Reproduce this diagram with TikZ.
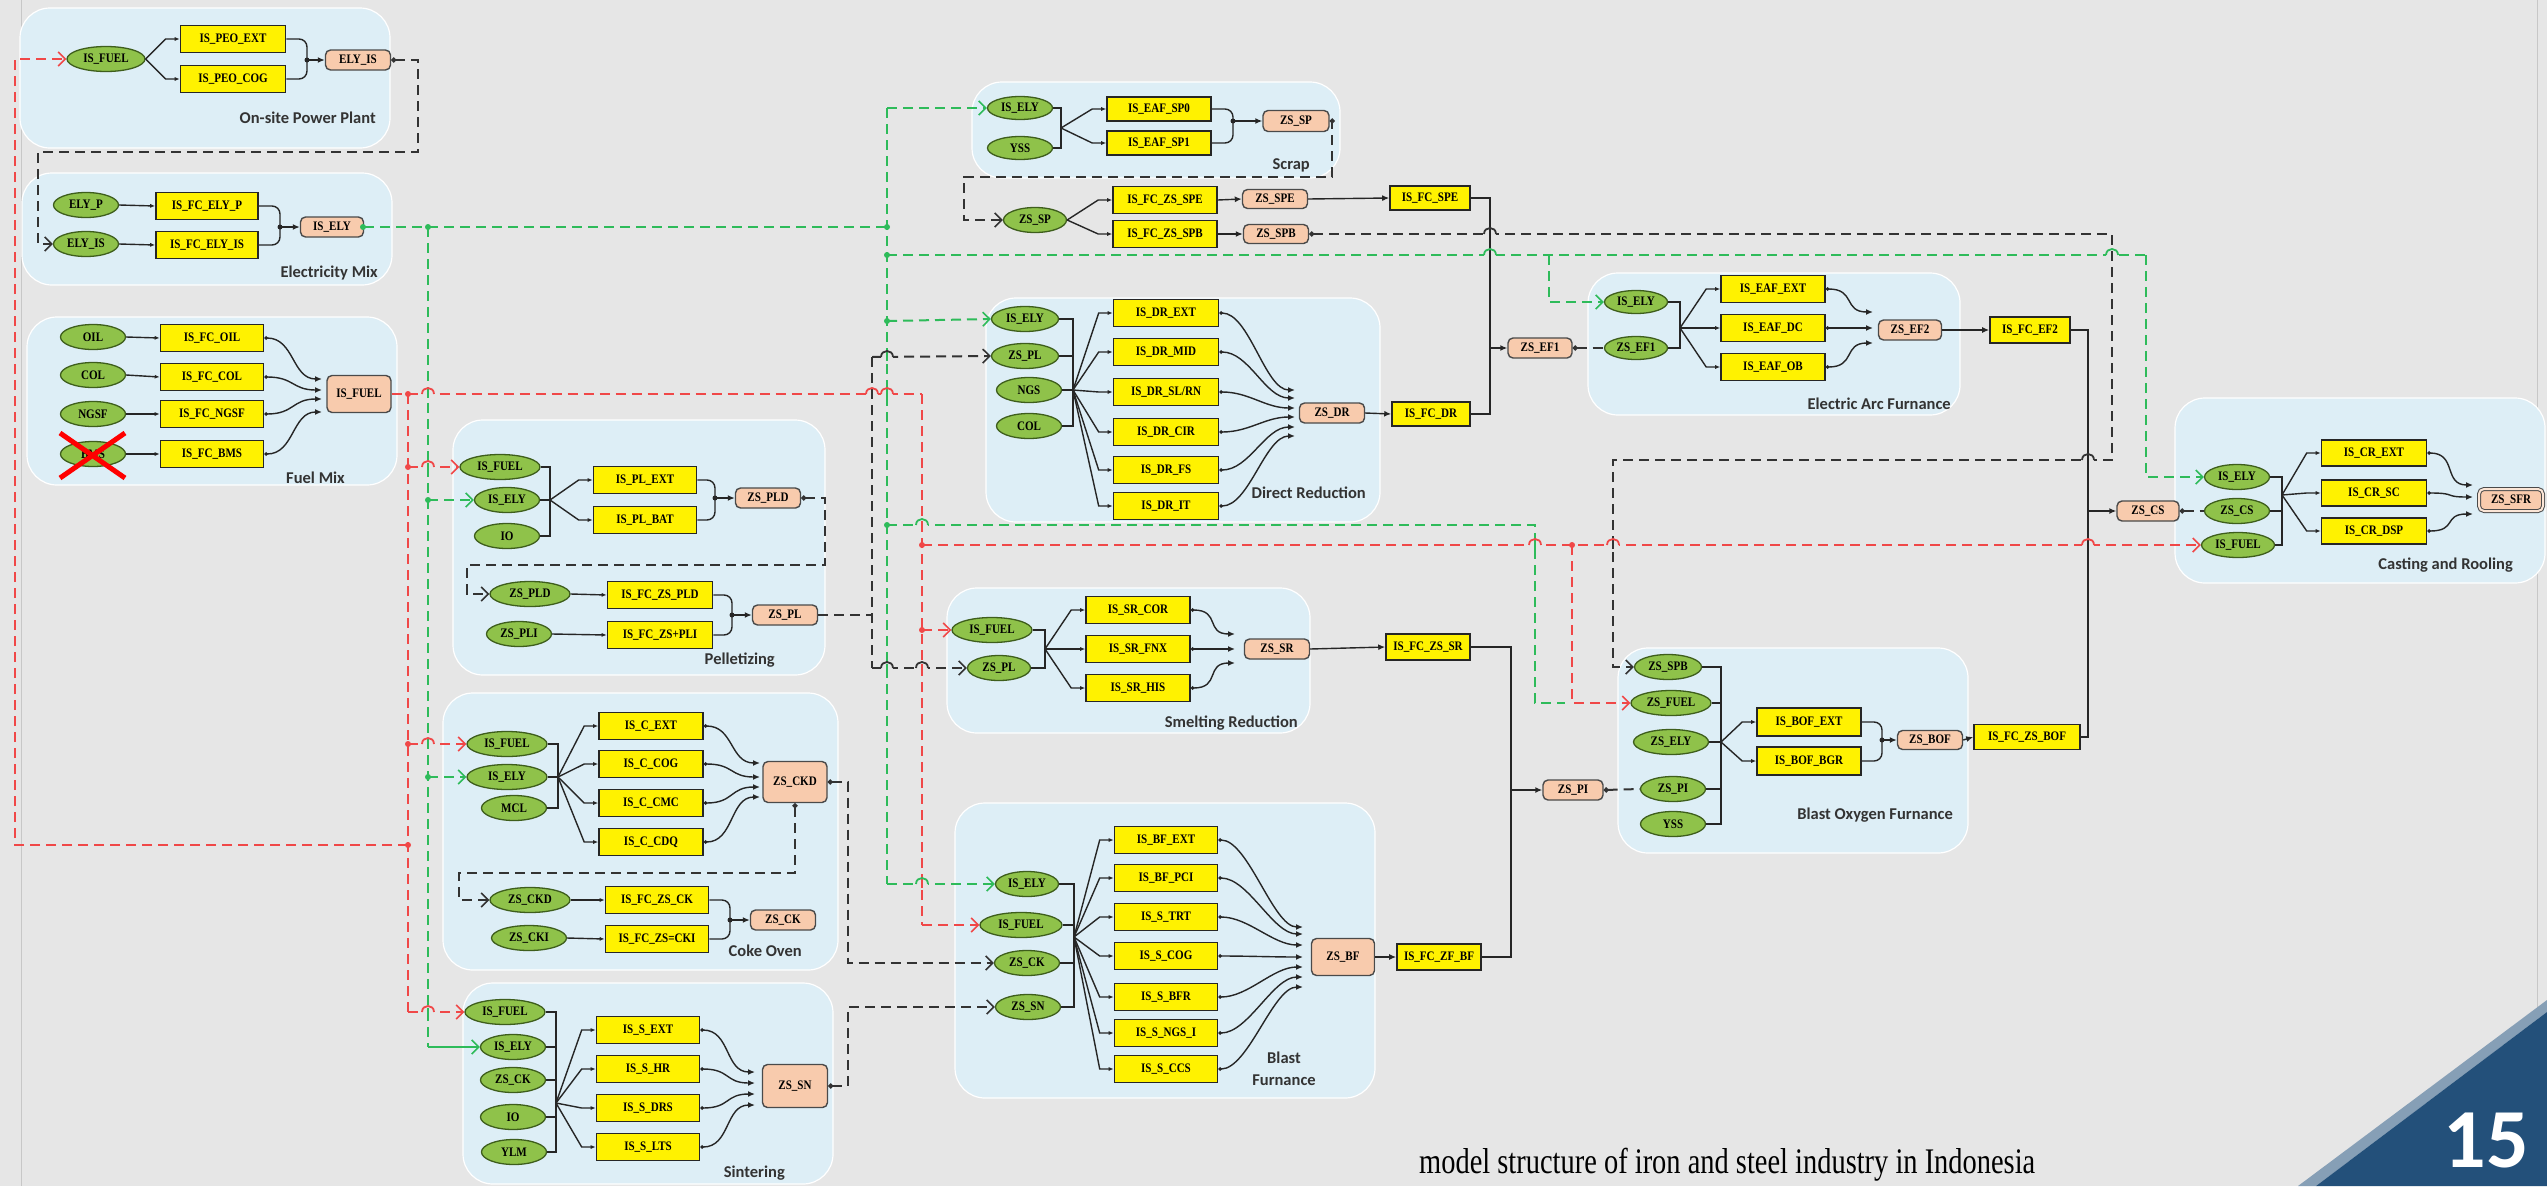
\documentclass[tikz,border=0pt]{standalone}
\usepackage{fontspec}
\usetikzlibrary{shapes.geometric,arrows.meta,calc}
\newfontfamily\nodefont[FakeStretch=0.85]{Liberation Serif}
\newfontfamily\lblfont{Carlito}
\newfontfamily\capfont[FakeStretch=0.79]{Liberation Serif}
\definecolor{bg}{HTML}{E6E6E6}
\definecolor{panelc}{HTML}{DDEEF6}
\definecolor{ellc}{HTML}{8FC24A}
\definecolor{elld}{HTML}{3E5E1C}
\definecolor{peach}{HTML}{F8CBAD}
\definecolor{peachd}{HTML}{4A4A4A}
\definecolor{redl}{HTML}{F04848}
\definecolor{greenl}{HTML}{2EBB5A}
\definecolor{blkl}{HTML}{333333}
\definecolor{navy}{HTML}{23507A}
\tikzset{
 panel/.style={fill=panelc, draw=white, line width=1.2pt, rounded corners=30pt},
 nf/.style={font=\nodefont\bfseries\fontsize{13}{13}\selectfont},
 inp/.style={ellipse, draw=elld, fill=ellc, line width=1.3pt, minimum height=25pt, minimum width=65pt, inner sep=0pt, nf},
 proc/.style={rectangle, draw=black!85, fill=yellow, line width=1.6pt, minimum width=103pt, minimum height=27pt, inner sep=0pt, nf},
 outp/.style={rectangle, rounded corners=5pt, draw=peachd, fill=peach, line width=1.4pt, minimum width=65pt, minimum height=20pt, inner sep=0pt, nf},
 lbl/.style={anchor=base east, font=\lblfont\bfseries\fontsize{16.5}{16.5}\selectfont, text=black!80, inner sep=0pt},
 conn/.style={draw=black!85, line width=1.4pt},
 arr/.style={-{Latex[length=7pt,width=6pt]}},
 din/.style={{Circle[length=3.5pt]}-{Latex[length=7pt,width=6pt]}},
 fanl/.style={conn,-{Latex[length=5pt,width=4pt]}},
 rd/.style={draw=redl, line width=2pt, dash pattern=on 10pt off 6pt},
 gd/.style={draw=greenl, line width=2pt, dash pattern=on 10pt off 6pt},
 bd/.style={draw=blkl, line width=2pt, dash pattern=on 10pt off 6pt},
 barb/.style={-{Straight Barb[length=7pt,width=14pt,line width=1.6pt]}},
 dbarb/.style={{Circle[length=5pt]}-{Straight Barb[length=7pt,width=14pt,line width=1.6pt]}},
}
\newcommand\myfan[2]{\draw[fanl] (#1) -- ($(#2.west)+(-14,0)$) -- (#2.west);}
\newcommand\mycv[3]{\draw[conn,din] (#1.east) .. controls +(30,0) and +(-30,0) .. (#2,#3);}
\newcommand\mymerge[4]{\draw[conn,rounded corners=8pt] (#1.east) -| (#3); \draw[conn,rounded corners=8pt] (#2.east) -| (#3); \fill[black!85] (#3) circle (2.5pt); \draw[conn,arr] (#3) -- (#4.west);}
\newcommand\myhop[4]{\fill[bg] (#1-6,#2-2.6) rectangle (#1+6,#2+2.6);
 \draw[#4, line width=1.8pt] (#1,#2-4) -- (#1,#2+4);
 \draw[#3, line width=1.8pt] (#1-6,#2) .. controls (#1-6,#2-8) and (#1+6,#2-8) .. (#1+6,#2);}
\begin{document}
\begin{tikzpicture}[x=1pt,y=-1pt]
\useasboundingbox (0,0) rectangle (2547,1186);
\fill[bg] (0,0) rectangle (2547,1186);
\draw[black!22, line width=1pt] (21,0) -- (21,1186) (2537,0) -- (2537,1186);

% ---------------- panels
\draw[panel] (20,8) rectangle (390,148);
\draw[panel] (22,173) rectangle (392,285);
\draw[panel] (27,317) rectangle (397,485);
\draw[panel] (453,420) rectangle (825,675);
\draw[panel] (443,693) rectangle (838,970);
\draw[panel] (463,983) rectangle (833,1184);
\draw[panel] (972,82) rectangle (1340,178);
\draw[panel] (986,298) rectangle (1380,522);
\draw[panel] (947,588) rectangle (1310,733);
\draw[panel] (955,803) rectangle (1375,1098);
\draw[panel] (1588,273) rectangle (1960,415);
\draw[panel] (1618,648) rectangle (1968,853);
\draw[panel] (2175,398) rectangle (2545,583);

% ---------------- On-site Power Plant
\node[inp, minimum width=78pt] (opFUEL) at (106,59) {IS\_FUEL};
\node[proc, minimum width=105pt] (opEXT) at (233,39) {IS\_PEO\_EXT};
\node[proc, minimum width=105pt] (opCOG) at (233,79) {IS\_PEO\_COG};
\node[outp] (opOUT) at (358,60) {ELY\_IS};
\coordinate (opM) at (307,60);
\myfan{opFUEL.east}{opEXT}
\myfan{opFUEL.east}{opCOG}
\mymerge{opEXT}{opCOG}{opM}{opOUT}
\node[lbl] (opL) at (376,123) {On-site Power Plant};

% ---------------- Electricity Mix
\node[inp] (emP) at (86,205) {ELY\_P};
\node[inp] (emIS) at (86,244) {ELY\_IS};
\node[proc, minimum width=102pt] (emFP) at (207,206) {IS\_FC\_ELY\_P};
\node[proc, minimum width=102pt] (emFIS) at (207,245) {IS\_FC\_ELY\_IS};
\node[outp, minimum width=63pt] (emOUT) at (332,227) {IS\_ELY};
\coordinate (emM) at (280,227);
\draw[fanl] (emP.east) -- (emFP.west);
\draw[fanl] (emIS.east) -- (emFIS.west);
\mymerge{emFP}{emFIS}{emM}{emOUT}
\node[lbl] (emL) at (378,277) {Electricity Mix};

% ---------------- Fuel Mix
\node[inp] (fmOIL) at (93,337) {OIL};
\node[inp] (fmCOL) at (93,375) {COL};
\node[inp] (fmNGSF) at (93,414) {NGSF};
\node[inp] (fmBMS) at (93,454) {BMS};
\node[proc] (fmB1) at (212,338) {IS\_FC\_OIL};
\node[proc] (fmB2) at (212,377) {IS\_FC\_COL};
\node[proc] (fmB3) at (212,414) {IS\_FC\_NGSF};
\node[proc] (fmB4) at (212,454) {IS\_FC\_BMS};
\node[outp, minimum width=64pt, minimum height=37pt] (fmOUT) at (359,394) {IS\_FUEL};
\draw[fanl] (fmOIL.east) -- (fmB1.west);
\draw[fanl] (fmCOL.east) -- (fmB2.west);
\draw[fanl] (fmNGSF.east) -- (fmB3.west);
\draw[fanl] (fmBMS.east) -- (fmB4.west);
\mycv{fmB1}{322}{379}
\mycv{fmB2}{322}{390}
\mycv{fmB3}{322}{399}
\mycv{fmB4}{322}{412}
\draw[draw=red, line width=5pt] (60,433) -- (125,478) (60,478) -- (125,433);
\node[lbl] (fmL) at (345,483) {Fuel Mix};

% ---------------- Pelletizing
\node[inp, minimum width=80pt] (plFUEL) at (500,467) {IS\_FUEL};
\node[inp] (plELY) at (507,500) {IS\_ELY};
\node[inp] (plIO) at (507,536) {IO};
\coordinate (plJ) at (550,500);
\draw[conn] (plFUEL.east) -| (plJ);
\draw[conn] (plIO.east) -| (plJ);
\draw[conn] (plELY.east) -- (plJ);
\node[proc] (plA) at (645,480) {IS\_PL\_EXT};
\node[proc] (plB) at (645,520) {IS\_PL\_BAT};
\myfan{plJ}{plA}
\myfan{plJ}{plB}
\node[outp] (plO1) at (768,498) {ZS\_PLD};
\coordinate (plM1) at (715,498);
\mymerge{plA}{plB}{plM1}{plO1}
\node[inp, minimum width=80pt] (plZ1) at (530,594) {ZS\_PLD};
\node[inp] (plZ2) at (519,634) {ZS\_PLI};
\node[proc, minimum width=105pt] (plC) at (660,595) {IS\_FC\_ZS\_PLD};
\node[proc, minimum width=105pt] (plD) at (660,635) {IS\_FC\_ZS+PLI};
\draw[fanl] (plZ1.east) -- (plC.west);
\draw[fanl] (plZ2.east) -- (plD.west);
\node[outp] (plO2) at (785,615) {ZS\_PL};
\coordinate (plM2) at (732,615);
\mymerge{plC}{plD}{plM2}{plO2}
\draw[bd,dbarb] (plO1.east) -- (825,498) -- (825,565) -- (467,565) |- (plZ1.west);
\node[lbl] (plL) at (775,664) {Pelletizing};

% ---------------- Coke Oven
\node[inp, minimum width=80pt] (coFUEL) at (507,744) {IS\_FUEL};
\node[inp, minimum width=80pt] (coELY) at (507,777) {IS\_ELY};
\node[inp] (coMCL) at (514,808) {MCL};
\coordinate (coJ) at (558,777);
\draw[conn] (coFUEL.east) -| (coJ);
\draw[conn] (coMCL.east) -| (coJ);
\draw[conn] (coELY.east) -- (coJ);
\node[proc, minimum width=104pt] (coA) at (651,726) {IS\_C\_EXT};
\node[proc, minimum width=104pt] (coB) at (651,764) {IS\_C\_COG};
\node[proc, minimum width=104pt] (coC) at (651,803) {IS\_C\_CMC};
\node[proc, minimum width=104pt] (coD) at (651,842) {IS\_C\_CDQ};
\myfan{coJ}{coA}
\myfan{coJ}{coB}
\myfan{coJ}{coC}
\myfan{coJ}{coD}
\node[outp, minimum width=64pt, minimum height=41pt] (coO1) at (795,782) {ZS\_CKD};
\mycv{coA}{760}{763}
\mycv{coB}{760}{777}
\mycv{coC}{760}{787}
\mycv{coD}{760}{797}
\node[inp, minimum width=80pt] (coZ1) at (530,900) {ZS\_CKD};
\node[inp, minimum width=75pt] (coZ2) at (529,938) {ZS\_CKI};
\node[proc] (coE) at (657,900) {IS\_FC\_ZS\_CK};
\node[proc] (coF) at (657,939) {IS\_FC\_ZS=CKI};
\draw[fanl] (coZ1.east) -- (coE.west);
\draw[fanl] (coZ2.east) -- (coF.west);
\node[outp] (coO2) at (783,920) {ZS\_CK};
\coordinate (coM) at (730,920);
\mymerge{coE}{coF}{coM}{coO2}
\draw[bd,dbarb] (coO1.south) -- (795,873) -- (459,873) |- (coZ1.west);
\node[lbl] (coL) at (802,956) {Coke Oven};

% ---------------- Sintering
\node[inp, minimum width=80pt] (snFUEL) at (505,1012) {IS\_FUEL};
\node[inp] (snELY) at (513,1047) {IS\_ELY};
\node[inp] (snCK) at (513,1080) {ZS\_CK};
\node[inp] (snIO) at (513,1117) {IO};
\node[inp] (snYLM) at (514,1152) {YLM};
\coordinate (snJ) at (556,1103);
\foreach \n in {snFUEL,snELY,snCK,snIO,snYLM} {\draw[conn] (\n.east) -| (snJ);}
\node[proc] (snA) at (648,1030) {IS\_S\_EXT};
\node[proc] (snB) at (648,1069) {IS\_S\_HR};
\node[proc] (snC) at (648,1108) {IS\_S\_DRS};
\node[proc] (snD) at (648,1147) {IS\_S\_LTS};
\myfan{snJ}{snA}
\myfan{snJ}{snB}
\myfan{snJ}{snC}
\myfan{snJ}{snD}
\node[outp, minimum height=43pt] (snO) at (795,1086) {ZS\_SN};
\mycv{snA}{755}{1072}
\mycv{snB}{755}{1083}
\mycv{snC}{755}{1094}
\mycv{snD}{755}{1105}
\node[lbl] (snL) at (785,1177) {Sintering};

% ---------------- Scrap
\node[inp, minimum height=23pt] (scELY) at (1020,108) {IS\_ELY};
\node[inp, minimum height=23pt] (scYSS) at (1020,148) {YSS};
\coordinate (scJ) at (1061,128);
\draw[conn] (scELY.east) -| (scJ);
\draw[conn] (scYSS.east) -| (scJ);
\node[proc, minimum width=104pt, minimum height=24pt] (scA) at (1159,109) {IS\_EAF\_SP0};
\node[proc, minimum width=104pt, minimum height=24pt] (scB) at (1159,143) {IS\_EAF\_SP1};
\myfan{scJ}{scA}
\myfan{scJ}{scB}
\node[outp, minimum width=66pt, minimum height=21pt] (scO) at (1296,121) {ZS\_SP};
\coordinate (scM) at (1233,121);
\mymerge{scA}{scB}{scM}{scO}
\node[lbl] (scL) at (1310,169) {Scrap};
\node[inp, minimum width=63pt] (scZ) at (1035,220) {ZS\_SP};
\draw[bd,dbarb] (scO.east) -- ++(2,0) |- (964,177) |- (scZ.west);
\node[proc, minimum width=104pt] (scC) at (1165,200) {IS\_FC\_ZS\_SPE};
\node[proc, minimum width=104pt] (scD) at (1165,234) {IS\_FC\_ZS\_SPB};
\myfan{scZ.east}{scC}
\myfan{scZ.east}{scD}
\node[outp, minimum height=19pt] (scE) at (1275,199) {ZS\_SPE};
\node[outp, minimum height=19pt] (scF) at (1276,234) {ZS\_SPB};
\draw[conn,arr] (scC.east) -- (scE.west);
\draw[conn,arr] (scD.east) -- (scF.west);

% ---------------- Direct Reduction
\node[inp, minimum width=67pt] (drELY) at (1025,319) {IS\_ELY};
\node[inp, minimum width=67pt] (drPL) at (1025,356) {ZS\_PL};
\node[inp] (drNGS) at (1029,390) {NGS};
\node[inp] (drCOL) at (1029,426) {COL};
\coordinate (drJ) at (1073,390);
\foreach \n in {drELY,drPL,drNGS,drCOL} {\draw[conn] (\n.east) -| (drJ);}
\node[proc, minimum width=105pt] (drA) at (1166,313) {IS\_DR\_EXT};
\node[proc, minimum width=105pt] (drB) at (1166,352) {IS\_DR\_MID};
\node[proc, minimum width=105pt] (drC) at (1166,392) {IS\_DR\_SL/RN};
\node[proc, minimum width=105pt] (drD) at (1166,432) {IS\_DR\_CIR};
\node[proc, minimum width=105pt] (drE) at (1166,470) {IS\_DR\_FS};
\node[proc, minimum width=105pt] (drF) at (1166,506) {IS\_DR\_IT};
\foreach \n in {drA,drB,drC,drD,drE,drF} {\myfan{drJ}{\n}}
\node[outp] (drO) at (1332,413) {ZS\_DR};
\mycv{drA}{1295}{390}
\mycv{drB}{1295}{398}
\mycv{drC}{1295}{408}
\mycv{drD}{1295}{417}
\mycv{drE}{1295}{427}
\mycv{drF}{1295}{436}
\node[lbl] (drL) at (1366,498) {Direct Reduction};

\node[proc, minimum width=80pt, minimum height=24pt] (fcSPE) at (1430,198) {IS\_FC\_SPE};
\node[proc, minimum width=78pt, minimum height=24pt] (fcDR) at (1431,414) {IS\_FC\_DR};
\draw[conn,arr] (scE.east) -- (fcSPE.west);
\draw[conn,arr] (drO.east) -- (fcDR.west);
\node[outp, minimum width=64pt] (zEF1) at (1540,348) {ZS\_EF1};
\coordinate (jEF) at (1490,348);
\draw[conn] (fcSPE.east) -| (jEF);
\draw[conn] (fcDR.east) -| (jEF);
\draw[conn,arr] (jEF) -- (zEF1.west);

% ---------------- Smelting Reduction
\node[inp, minimum width=80pt] (srFUEL) at (992,630) {IS\_FUEL};
\node[inp, minimum width=63pt] (srPL) at (999,668) {ZS\_PL};
\coordinate (srJ) at (1045,649);
\draw[conn] (srFUEL.east) -| (srJ);
\draw[conn] (srPL.east) -| (srJ);
\node[proc, minimum width=104pt] (srA) at (1138,610) {IS\_SR\_COR};
\node[proc, minimum width=104pt] (srB) at (1138,649) {IS\_SR\_FNX};
\node[proc, minimum width=104pt] (srC) at (1138,688) {IS\_SR\_HIS};
\myfan{srJ}{srA}
\myfan{srJ}{srB}
\myfan{srJ}{srC}
\node[outp] (srO) at (1277,649) {ZS\_SR};
\mycv{srA}{1235}{634}
\mycv{srB}{1235}{649}
\mycv{srC}{1235}{663}
\node[lbl] (srL) at (1298,727) {Smelting Reduction};
\node[proc, minimum width=84pt, minimum height=26pt] (fcSR) at (1428,647) {IS\_FC\_ZS\_SR};
\draw[conn,arr] (srO.east) -- (fcSR.west);

% ---------------- Blast Furnace
\node[inp, minimum width=63pt] (bfELY) at (1027,884) {IS\_ELY};
\node[inp, minimum width=82pt] (bfFUEL) at (1021,925) {IS\_FUEL};
\node[inp] (bfCK) at (1027,963) {ZS\_CK};
\node[inp] (bfSN) at (1028,1007) {ZS\_SN};
\coordinate (bfJ) at (1074,937);
\foreach \n in {bfELY,bfFUEL,bfCK,bfSN} {\draw[conn] (\n.east) -| (bfJ);}
\node[proc] (bfA) at (1166,840) {IS\_BF\_EXT};
\node[proc] (bfB) at (1166,878) {IS\_BF\_PCI};
\node[proc] (bfC) at (1166,917) {IS\_S\_TRT};
\node[proc] (bfD) at (1166,956) {IS\_S\_COG};
\node[proc] (bfE) at (1166,997) {IS\_S\_BFR};
\node[proc] (bfF) at (1166,1033) {IS\_S\_NGS\_I};
\node[proc] (bfG) at (1166,1069) {IS\_S\_CCS};
\foreach \n in {bfA,bfB,bfC,bfD,bfE,bfF,bfG} {\myfan{bfJ}{\n}}
\node[outp, minimum width=63pt, minimum height=37pt] (bfO) at (1343,957) {ZS\_BF};
\mycv{bfA}{1303}{927}
\mycv{bfB}{1303}{934}
\mycv{bfC}{1303}{945}
\mycv{bfD}{1303}{957}
\mycv{bfE}{1303}{967}
\mycv{bfF}{1303}{977}
\mycv{bfG}{1303}{987}
\node[font=\lblfont\bfseries\fontsize{16.5}{22}\selectfont, text=black!80, align=center] (bfL) at (1284,1069) {Blast\\Furnance};
\node[proc, minimum width=84pt, minimum height=26pt] (fcBF) at (1439,957) {IS\_FC\_ZF\_BF};
\draw[conn,arr] (bfO.east) -- (fcBF.west);
\node[outp, minimum width=60pt] (zPI) at (1573,790) {ZS\_PI};
\coordinate (jPI) at (1511,790);
\draw[conn] (fcSR.east) -| (jPI);
\draw[conn] (fcBF.east) -| (jPI);
\draw[conn,arr] (jPI) -- (zPI.west);

% ---------------- Electric Arc Furnance
\node[inp, minimum width=63pt, minimum height=23pt] (efELY) at (1636,302) {IS\_ELY};
\node[inp, minimum width=63pt, minimum height=23pt] (efZ1) at (1636,348) {ZS\_EF1};
\coordinate (efJ) at (1680,328);
\draw[conn] (efELY.east) -| (efJ);
\draw[conn] (efZ1.east) -| (efJ);
\node[proc, minimum width=104pt] (efA) at (1773,289) {IS\_EAF\_EXT};
\node[proc, minimum width=104pt] (efB) at (1773,328) {IS\_EAF\_DC};
\node[proc, minimum width=104pt] (efC) at (1773,367) {IS\_EAF\_OB};
\myfan{efJ}{efA}
\myfan{efJ}{efB}
\myfan{efJ}{efC}
\node[outp, minimum width=63pt] (efO) at (1910,330) {ZS\_EF2};
\mycv{efA}{1873}{312}
\mycv{efB}{1873}{328}
\mycv{efC}{1873}{343}
\node[lbl] (efL) at (1951,409) {Electric Arc Furnance};
\node[proc, minimum width=80pt, minimum height=26pt] (fcEF) at (2030,330) {IS\_FC\_EF2};
\draw[conn,arr] (efO.east) -- (fcEF.west);
\draw[bd,{Circle[length=5pt]}-] (zEF1.east) -- (efZ1.west);

% ---------------- Blast Oxygen Furnance
\node[inp, minimum width=67pt] (bofSPB) at (1668,667) {ZS\_SPB};
\node[inp, minimum width=80pt] (bofFUEL) at (1671,703) {ZS\_FUEL};
\node[inp, minimum width=75pt] (bofELY) at (1671,742) {ZS\_ELY};
\node[inp] (bofPI) at (1673,789) {ZS\_PI};
\node[inp] (bofYSS) at (1673,824) {YSS};
\coordinate (bofJ) at (1721,742);
\foreach \n in {bofSPB,bofFUEL,bofELY,bofPI,bofYSS} {\draw[conn] (\n.east) -| (bofJ);}
\node[proc, minimum width=104pt, minimum height=28pt] (bofA) at (1809,722) {IS\_BOF\_EXT};
\node[proc, minimum width=104pt, minimum height=28pt] (bofB) at (1809,761) {IS\_BOF\_BGR};
\myfan{bofJ}{bofA}
\myfan{bofJ}{bofB}
\node[outp, minimum height=19pt] (bofO) at (1930,740) {ZS\_BOF};
\coordinate (bofM) at (1882,740);
\mymerge{bofA}{bofB}{bofM}{bofO}
\node[lbl] (bofL) at (1953,819) {Blast Oxygen Furnance};
\node[proc, minimum width=106pt, minimum height=25pt] (fcBOF) at (2027,737) {IS\_FC\_ZS\_BOF};
\draw[conn,arr] (bofO.east) -- (fcBOF.west);
\draw[bd,{Circle[length=5pt]}-] (zPI.east) -- (bofPI.west);

\node[outp, minimum width=62pt] (zCS) at (2148,511) {ZS\_CS};
\coordinate (jCS) at (2088,511);
\draw[conn] (fcEF.east) -| (jCS);
\draw[conn] (fcBOF.east) -| (jCS);
\draw[conn,arr] (jCS) -- (zCS.west);

% ---------------- Casting and Rooling
\node[inp] (crELY) at (2237,477) {IS\_ELY};
\node[inp] (crCS) at (2237,511) {ZS\_CS};
\node[inp, minimum width=73pt] (crFUEL) at (2238,545) {IS\_FUEL};
\coordinate (crJ) at (2282,495);
\foreach \n in {crELY,crCS,crFUEL} {\draw[conn] (\n.east) -| (crJ);}
\node[proc, minimum width=105pt, minimum height=26pt] (crA) at (2374,453) {IS\_CR\_EXT};
\node[proc, minimum width=105pt, minimum height=26pt] (crB) at (2374,493) {IS\_CR\_SC};
\node[proc, minimum width=105pt, minimum height=26pt] (crC) at (2374,531) {IS\_CR\_DSP};
\myfan{crJ}{crA}
\myfan{crJ}{crB}
\myfan{crJ}{crC}
\node[outp, minimum width=64pt, minimum height=22pt, double=peach!50!white, double distance=2pt, line width=1pt] (crO) at (2511,500) {ZS\_SFR};
\mycv{crA}{2473}{485}
\mycv{crB}{2473}{497}
\mycv{crC}{2473}{514}
\node[lbl] (crL) at (2513,569) {Casting and Rooling};
\draw[bd,{Circle[length=5pt]}-] (zCS.east) -- (crCS.west);

% ---------------- network: black dashed
\draw[bd,dbarb] (opOUT.east) -- (418,60) -- (418,152) -- (38,152) |- (emIS.west);
\draw[bd] (plO2.east) -- (872,615);
\draw[bd,barb] (872,357) -- (drPL.west);
\draw[bd] (872,357) -- (872,668);
\draw[bd,barb] (872,668) -- (srPL.west);
\draw[bd,dbarb] (coO1.east) -- (848,782) |- (bfCK.west);
\draw[bd,dbarb] (snO.east) -- (848,1086) |- (bfSN.west);
\draw[bd,dbarb] (scF.east) -- (2112,234) -- (2112,460) -- (1613,460) |- (bofSPB.west);

% ---------------- network: red dashed
\draw[rd,barb] (408,845) -- (15,845) |- (opFUEL.west);
\draw[rd] (fmOUT.east) -- (922,394);
\draw[rd] (408,394) -- (408,1012);
\draw[rd,barb] (408,467) -- (plFUEL.west);
\draw[rd,barb] (408,744) -- (coFUEL.west);
\draw[rd,barb] (408,1012) -- (snFUEL.west);
\draw[rd] (922,394) -- (922,925);
\draw[rd,barb] (922,630) -- (srFUEL.west);
\draw[rd,barb] (922,925) -- (bfFUEL.west);
\draw[rd,barb] (922,545) -- (crFUEL.west);
\draw[rd,barb] (1572,545) |- (bofFUEL.west);
\foreach \p in {(408,394),(408,467),(408,744),(408,845),(922,630),(922,545),(1572,545)} {\fill[redl] \p circle (3pt);}

% ---------------- network: green dashed
\draw[gd] (emOUT.east) -- (887,227);
\draw[gd] (428,227) -- (428,1047);
\draw[gd,barb] (428,500) -- (plELY.west);
\draw[gd,barb] (428,777) -- (coELY.west);
\draw[greenl, line width=2pt, barb] (428,1047) -- (snELY.west);
\draw[gd] (887,108) -- (887,884);
\draw[gd,barb] (887,108) -- (scELY.west);
\draw[gd,barb] (887,321) -- (drELY.west);
\draw[gd,barb] (887,884) -- (bfELY.west);
\draw[gd] (887,255) -- (2146,255);
\draw[gd,barb] (2146,255) |- (crELY.west);
\draw[gd,barb] (1549,255) |- (efELY.west);
\draw[gd] (887,525) -- (1535,525) |- (1565,703);
\foreach \p in {(363,227),(428,227),(428,500),(428,777),(887,227),(887,255),(887,321),(887,525)} {\fill[greenl] \p circle (3pt);}

% ---------------- line hops
\myhop{428}{394}{redl}{greenl}
\myhop{872}{394}{redl}{blkl}
\myhop{887}{394}{redl}{greenl}
\myhop{428}{467}{redl}{greenl}
\myhop{428}{744}{redl}{greenl}
\myhop{428}{1012}{redl}{greenl}
\myhop{887}{357}{blkl}{greenl}
\myhop{887}{668}{blkl}{greenl}
\myhop{922}{668}{blkl}{redl}
\myhop{922}{525}{greenl}{redl}
\myhop{922}{884}{greenl}{redl}
\myhop{1490}{255}{greenl}{black!85}
\myhop{2112}{255}{greenl}{blkl}
\myhop{1490}{234}{blkl}{black!85}
\myhop{1535}{545}{redl}{greenl}
\myhop{1613}{545}{redl}{blkl}
\myhop{2088}{545}{redl}{black!85}
\myhop{2088}{460}{blkl}{black!85}

% ---------------- caption and page number
\node[anchor=base west, inner sep=0pt, font=\capfont\fontsize{36}{36}\selectfont] (cap) at (1419,1173) {model structure of iron and steel industry in Indonesia};
\fill[navy!55!white] (2298,1186) -- (2547,1000) -- (2547,1012) -- (2316,1186) -- cycle;
\fill[navy] (2316,1186) -- (2547,1012) -- (2547,1186) -- cycle;
\node[anchor=base, inner sep=0pt, font=\lblfont\bfseries\fontsize{84}{84}\selectfont, text=white] (pg) at (2486,1167) {15};
\end{tikzpicture}
\end{document}
